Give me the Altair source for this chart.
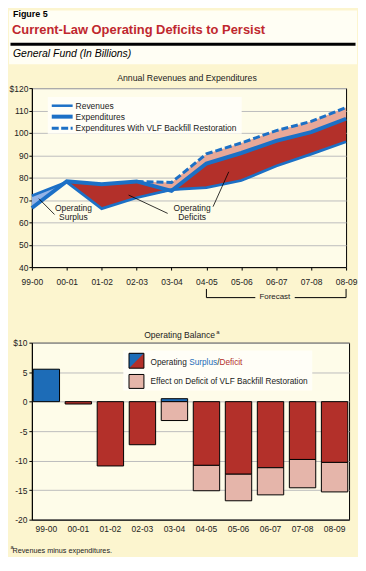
import altair as alt
import pandas as pd

# ---------------- data ----------------
years = ["99-00", "00-01", "01-02", "02-03", "03-04", "04-05", "05-06", "06-07", "07-08", "08-09"]
revenues = [71.9, 78.0, 66.1, 71.0, 74.6, 75.5, 78.7, 85.2, 90.5, 96.0]
expenditures = [66.4, 78.4, 77.0, 78.3, 74.1, 86.3, 91.0, 96.4, 100.3, 106.3]
exp_with_vlf = [None, None, None, 78.3, 77.8, 90.6, 95.5, 101.0, 105.1, 111.3]
balance = [5.5, -0.4, -10.9, -7.3, 0.5, -10.8, -12.3, -11.2, -9.8, -10.3]
balance_with_vlf = [None, None, None, None, -3.2, -15.1, -16.8, -15.8, -14.6, -15.3]
top_ticks = [40, 50, 60, 70, 80, 90, 100, 110, 120]
bottom_ticks = [-20, -15, -10, -5, 0, 5, 10]

# ---------------- style ----------------
FONT = "Liberation Sans"
CREAM = "#fffef4"
PANEL = "#fcf5cf"
PLOTBG = "#fefce9"
LEGBG = "#fffef7"
RED = "#b3302a"
PINK_AREA = "#e8a898"
PINK_BAR = "#e5b5aa"
LINE_BLUE = "#1c70c6"
SURPLUS_AREA = "#93b3e6"
BAR_BLUE = "#1d6cb7"
TITLE_RED = "#c0282e"
GRID = "#bcbcbc"
TXT = "#222222"

one = pd.DataFrame({"d": [0]})


def txt(text, x, y, size, color=TXT, weight="normal", style="normal", align="left"):
    return alt.Chart(one).mark_text(
        text=text, fontSize=size, color=color, fontWeight=weight, fontStyle=style,
        align=align, baseline="middle", font=FONT
    ).encode(x=alt.value(x), y=alt.value(y))


def rule_px(x, x2, y, y2, color="black", width=1.0, dash=None):
    kw = dict(color=color, strokeWidth=width)
    if dash:
        kw["strokeDash"] = dash
    return alt.Chart(one).mark_rule(**kw).encode(
        x=alt.value(x), x2=alt.value(x2), y=alt.value(y), y2=alt.value(y2))


def rect_px(x, x2, y, y2, fill, stroke=None):
    kw = dict(fill=fill)
    if stroke:
        kw["stroke"] = stroke
        kw["strokeWidth"] = 1
    else:
        kw["strokeWidth"] = 0
    return alt.Chart(one).mark_rect(**kw).encode(
        x=alt.value(x), x2=alt.value(x2), y=alt.value(y), y2=alt.value(y2))


# ---------------- top chart ----------------
idx = list(range(len(years)))
top_df = pd.DataFrame({"i": idx, "year": years, "rev": revenues,
                       "exp": expenditures, "vlf": exp_with_vlf})
label_expr = "[" + ",".join(f"'{y}'" for y in years) + "][datum.value]"

xscale = alt.Scale(domain=[0, 9], nice=False, zero=False)
xaxis = alt.Axis(values=idx, labelExpr=label_expr, title=None, grid=False,
                 labelOverlap=False, labelBound=False, labelFlush=False,
                 tickSize=3, labelPadding=8, labelFontSize=8.5, labelFont=FONT,
                 labelColor=TXT, domainColor="black", tickColor="black")
xq = alt.X("i:Q", scale=xscale, axis=xaxis)
yscale = alt.Scale(domain=[40, 120], nice=False, zero=False)
yaxis = alt.Axis(values=top_ticks, labelExpr="datum.value == 120 ? '$120' : datum.label",
                 title=None, grid=True, gridColor=GRID, tickSize=3, labelPadding=1,
                 labelOverlap=False, labelFlush=False, labelBound=False,
                 labelFontSize=8.5, labelFont=FONT, labelColor=TXT,
                 domainColor="black", tickColor="black")


def yq(field):
    return alt.Y(f"{field}:Q", scale=yscale, axis=yaxis)


base = alt.Chart(top_df)
surplus_area = base.transform_calculate(lo="min(datum.rev, datum.exp)").mark_area(
    color=SURPLUS_AREA, opacity=1).encode(x=xq, y=yq("rev"), y2="lo:Q")
deficit_area = base.transform_calculate(lo="min(datum.rev, datum.exp)").mark_area(
    color=RED, opacity=1).encode(x=xq, y=yq("exp"), y2="lo:Q")
vlf_area = base.transform_filter("isValid(datum.vlf)").mark_area(
    color=PINK_AREA, opacity=1).encode(x=xq, y=yq("vlf"), y2="exp:Q")
rev_line = base.mark_line(color=LINE_BLUE, strokeWidth=2.8).encode(x=xq, y=yq("rev"))
exp_line = base.mark_line(color=LINE_BLUE, strokeWidth=4).encode(x=xq, y=yq("exp"))
vlf_line = base.transform_filter("isValid(datum.vlf)").mark_line(
    color=LINE_BLUE, strokeWidth=3, strokeDash=[7, 3]).encode(x=xq, y=yq("vlf"))


def rule_data(x, y, x2, y2):
    return alt.Chart(one).mark_rule(color="black", strokeWidth=0.8).encode(
        x=alt.XDatum(x, scale=xscale, axis=xaxis), y=alt.YDatum(y, scale=yscale, axis=yaxis),
        x2=alt.datum(x2), y2=alt.datum(y2))


def text_data(text, x, y, size=8.5):
    return alt.Chart(one).mark_text(text=text, fontSize=size, color=TXT, font=FONT,
                                    align="center", baseline="middle").encode(
        x=alt.XDatum(x, scale=xscale, axis=xaxis), y=alt.YDatum(y, scale=yscale, axis=yaxis))


def forecast_rule(x, x2, y, y2):
    return alt.Chart(one).mark_rule(color="black", strokeWidth=1).encode(
        x=alt.XDatum(x, scale=xscale, axis=xaxis), x2=alt.datum(x2),
        y=alt.value(y), y2=alt.value(y2))


top_layers = [
    # header
    rect_px(-23, 327, -78, -24, CREAM),
    txt("Figure 5", -19, -74.5, 9, color="black", weight="bold"),
    txt("Current-Law Operating Deficits to Persist", -20, -58.5, 13, color=TITLE_RED, weight="bold"),
    rule_px(-21.5, 325.5, -44, -44, color="black", width=3),
    txt("General Fund (In Billions)", -19, -34, 10.5, color="black", style="italic"),
    txt("Annual Revenues and Expenditures", 156, -10, 8.8, align="center"),
    # data
    vlf_area, deficit_area, surplus_area, rev_line, exp_line, vlf_line,
    # legend
    rect_px(16, 211, 9, 46, LEGBG),
    rule_px(20, 41, 17.7, 17.7, color=LINE_BLUE, width=2.5),
    rule_px(20, 41, 28.7, 28.7, color=LINE_BLUE, width=4),
    rule_px(20, 41, 40.3, 40.3, color=LINE_BLUE, width=3, dash=[7, 2.5]),
    txt("Revenues", 44, 17.7, 8.5),
    txt("Expenditures", 44, 28.7, 8.5),
    txt("Expenditures With VLF Backfill Restoration", 44, 40.3, 8.5),
    # annotations
    rule_data(0.2, 70.6, 0.65, 63.5),
    text_data("Operating", 1.19, 66.6),
    text_data("Surplus", 1.19, 62.3),
    rule_data(2.77, 72.2, 3.89, 64.0),
    rule_data(5.19, 67.0, 5.64, 82.6),
    text_data("Operating", 4.59, 66.6),
    text_data("Deficits", 4.59, 62.3),
    # forecast bracket
    forecast_rule(5, 5, 202, 210.7),
    forecast_rule(9, 9, 202, 210.7),
    forecast_rule(5, 6.4, 210.7, 210.7),
    forecast_rule(7.53, 9, 210.7, 210.7),
    alt.Chart(one).mark_text(text="Forecast", fontSize=8, color=TXT, font=FONT,
                             align="center", baseline="middle").encode(
        x=alt.XDatum(6.96, scale=xscale, axis=xaxis), y=alt.value(210)),
]
top = alt.layer(*top_layers).properties(width=316, height=180)

# ---------------- bottom chart ----------------
bot_df = pd.DataFrame({"year": years, "bal": balance, "vlf": balance_with_vlf})
xb = alt.X("year:N", sort=years,
           scale=alt.Scale(paddingInner=0.176, paddingOuter=0.04),
           axis=alt.Axis(title=None, labelAngle=0, ticks=False, tickSize=0, labelPadding=5,
                         labelOverlap=False,
                         labelFontSize=8.5, labelFont=FONT, labelColor=TXT,
                         domainColor="black"))
bscale = alt.Scale(domain=[-20, 10], nice=False, zero=False)
baxis = alt.Axis(values=bottom_ticks,
                 labelExpr="datum.value == 10 ? '$10' : '' + datum.value",
                 title=None, grid=True, gridColor=GRID, tickSize=3, labelPadding=2,
                 labelOverlap=False, labelFlush=False,
                 labelFontSize=8.5, labelFont=FONT, labelColor=TXT,
                 domainColor="black", tickColor="black")

bars = alt.Chart(bot_df).mark_bar(stroke="black", strokeWidth=1).encode(
    x=xb,
    y=alt.Y("bal:Q", scale=bscale, axis=baxis),
    y2=alt.datum(0),
    color=alt.when(alt.datum.bal > 0).then(alt.value(BAR_BLUE)).otherwise(alt.value(RED)),
)
vlf_bars = alt.Chart(bot_df).transform_filter("isValid(datum.vlf)").transform_calculate(
    top="min(datum.bal, 0)").mark_bar(color=PINK_BAR, stroke="black", strokeWidth=1).encode(
    x=xb,
    y=alt.Y("top:Q", scale=bscale, axis=baxis),
    y2="vlf:Q",
)

tri = alt.Chart(one).mark_point(shape="M-1,-1L1,-1L-1,1Z", filled=True, fill=BAR_BLUE,
                                strokeWidth=0, size=225, opacity=1).encode(
    x=alt.value(105.2), y=alt.value(18.2))

bottom_layers = [
    bars, vlf_bars,
    txt("Operating Balance", 148.5, -7.5, 8.6, align="center"),
    txt("a", 185.5, -11, 6),
    rect_px(92, 282, 8, 48, LEGBG),
    rect_px(97.7, 112.7, 10.7, 25.7, RED),
    tri,
    rect_px(97.7, 112.7, 10.7, 25.7, "transparent", stroke="black"),
    txt("Operating", 119.3, 20.7, 8.3),
    txt("Surplus", 158.2, 20.7, 8.3, color=BAR_BLUE),
    txt("/", 186.4, 20.7, 8.3),
    txt("Deficit", 188.7, 20.7, 8.3, color=RED),
    rect_px(97.7, 112.7, 32, 46, PINK_BAR, stroke="black"),
    txt("Effect on Deficit of VLF Backfill Restoration", 119.3, 40, 8.3),
    txt("a", -21.5, 206, 5.5),
    txt("Revenues minus expenditures.", -19.5, 209.5, 7.3),
]
bottom = alt.layer(*bottom_layers).properties(width=319, height=178)

chart = alt.vconcat(top, bottom, spacing=76, bounds="flush").properties(
    background=PANEL, padding=0
).configure_view(stroke="black", strokeWidth=1, fill=PLOTBG).configure_axis(
    labelOverlap=False
)

chart.save("out.html", embed_options={"renderer": "svg", "actions": False})
